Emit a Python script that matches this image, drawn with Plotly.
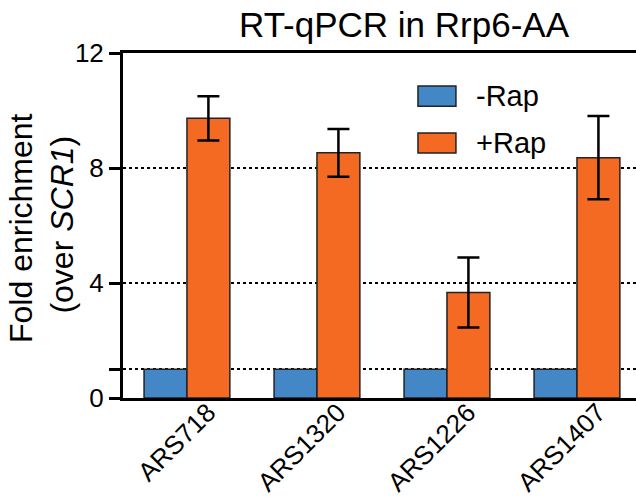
import plotly.graph_objects as go

categories = ["ARS718", "ARS1320", "ARS1226", "ARS1407"]
minus_rap = [1.0, 1.0, 1.0, 1.0]
plus_rap = [9.73, 8.53, 3.67, 8.36]
plus_err = [0.77, 0.83, 1.22, 1.45]
ytick_vals = [0, 1, 4, 8, 12]
ytick_text = ["0", "", "4", "8", "12"]
grid_vals = [1, 4, 8]
ytitle_lines = ["Fold enrichment", "(over <i>SCR1</i>)"]

BLUE = "#4387C7"
ORANGE = "#F46A22"
FONT = "Liberation Sans, Arial, sans-serif"

fig = go.Figure()
fig.add_trace(go.Bar(
    x=categories, y=minus_rap, name="-Rap",
    marker=dict(color=BLUE, line=dict(color="#222222", width=1.5)),
    showlegend=False,
))
fig.add_trace(go.Bar(
    x=categories, y=plus_rap, name="+Rap",
    marker=dict(color=ORANGE, line=dict(color="#222222", width=1.5)),
    error_y=dict(type="data", array=plus_err, visible=True,
                 color="black", thickness=2.5, width=11),
    showlegend=False,
))

# grid lines (dotted) at selected values via an overlaying axis
fig.add_trace(go.Scatter(x=categories, y=[None]*4, yaxis="y2",
                         showlegend=False, hoverinfo="skip"))

fig.update_layout(
    width=636, height=503,
    margin=dict(l=123, r=0, t=53, b=105),
    plot_bgcolor="white", paper_bgcolor="white",
    font=dict(family=FONT, color="black", size=26),
    barmode="group", bargap=0.34, bargroupgap=0,
    title=dict(text="RT-qPCR in Rrp6-AA", x=404/636, xanchor="center",
               y=1-25/503, yanchor="middle", yref="container",
               font=dict(size=35, family=FONT)),
    xaxis=dict(range=[-0.492, 3.454], showline=True, linecolor="black",
               linewidth=3, mirror=True, ticks="", tickangle=-45,
               tickfont=dict(size=26), showgrid=False, automargin=False,
               ticklabelstandoff=-14, ticklabelshift=21),
    yaxis=dict(range=[0, 12], tickvals=ytick_vals, ticktext=ytick_text,
               showline=True, linecolor="black", linewidth=3,
               ticks="outside", ticklen=11, tickwidth=3, tickcolor="black",
               showgrid=False, zeroline=False, tickfont=dict(size=26),
               automargin=False),
    yaxis2=dict(range=[0, 12], overlaying="y", tickvals=grid_vals,
                showticklabels=False, ticks="", showline=False,
                showgrid=True, gridcolor="black", gridwidth=1.5,
                griddash="dot", zeroline=False, automargin=False),
)

# y-axis title (two tightly spaced lines)
for line, xp, yp in zip(ytitle_lines, [-0.200, -0.118], [0.494, 0.504]):
    fig.add_annotation(text=line, xref="paper", yref="paper", x=xp, y=yp,
                       xanchor="center", yanchor="middle", textangle=-90,
                       showarrow=False, font=dict(size=32, family=FONT))

# manual legend
legend_items = [("-Rap", BLUE), ("+Rap", ORANGE)]
legend_y = [(0.904, 0.846), (0.768, 0.710)]
for (label, col), (y1, y0) in zip(legend_items, legend_y):
    fig.add_shape(type="rect", xref="paper", yref="paper",
                  x0=0.575, x1=0.649, y0=y0, y1=y1,
                  fillcolor=col, line=dict(color="#222222", width=1.5))
    fig.add_annotation(text=label, xref="paper", yref="paper",
                       x=0.685, y=(y0+y1)/2, xanchor="left", yanchor="middle",
                       showarrow=False, font=dict(size=29, family=FONT))

fig.write_html("out.html")
